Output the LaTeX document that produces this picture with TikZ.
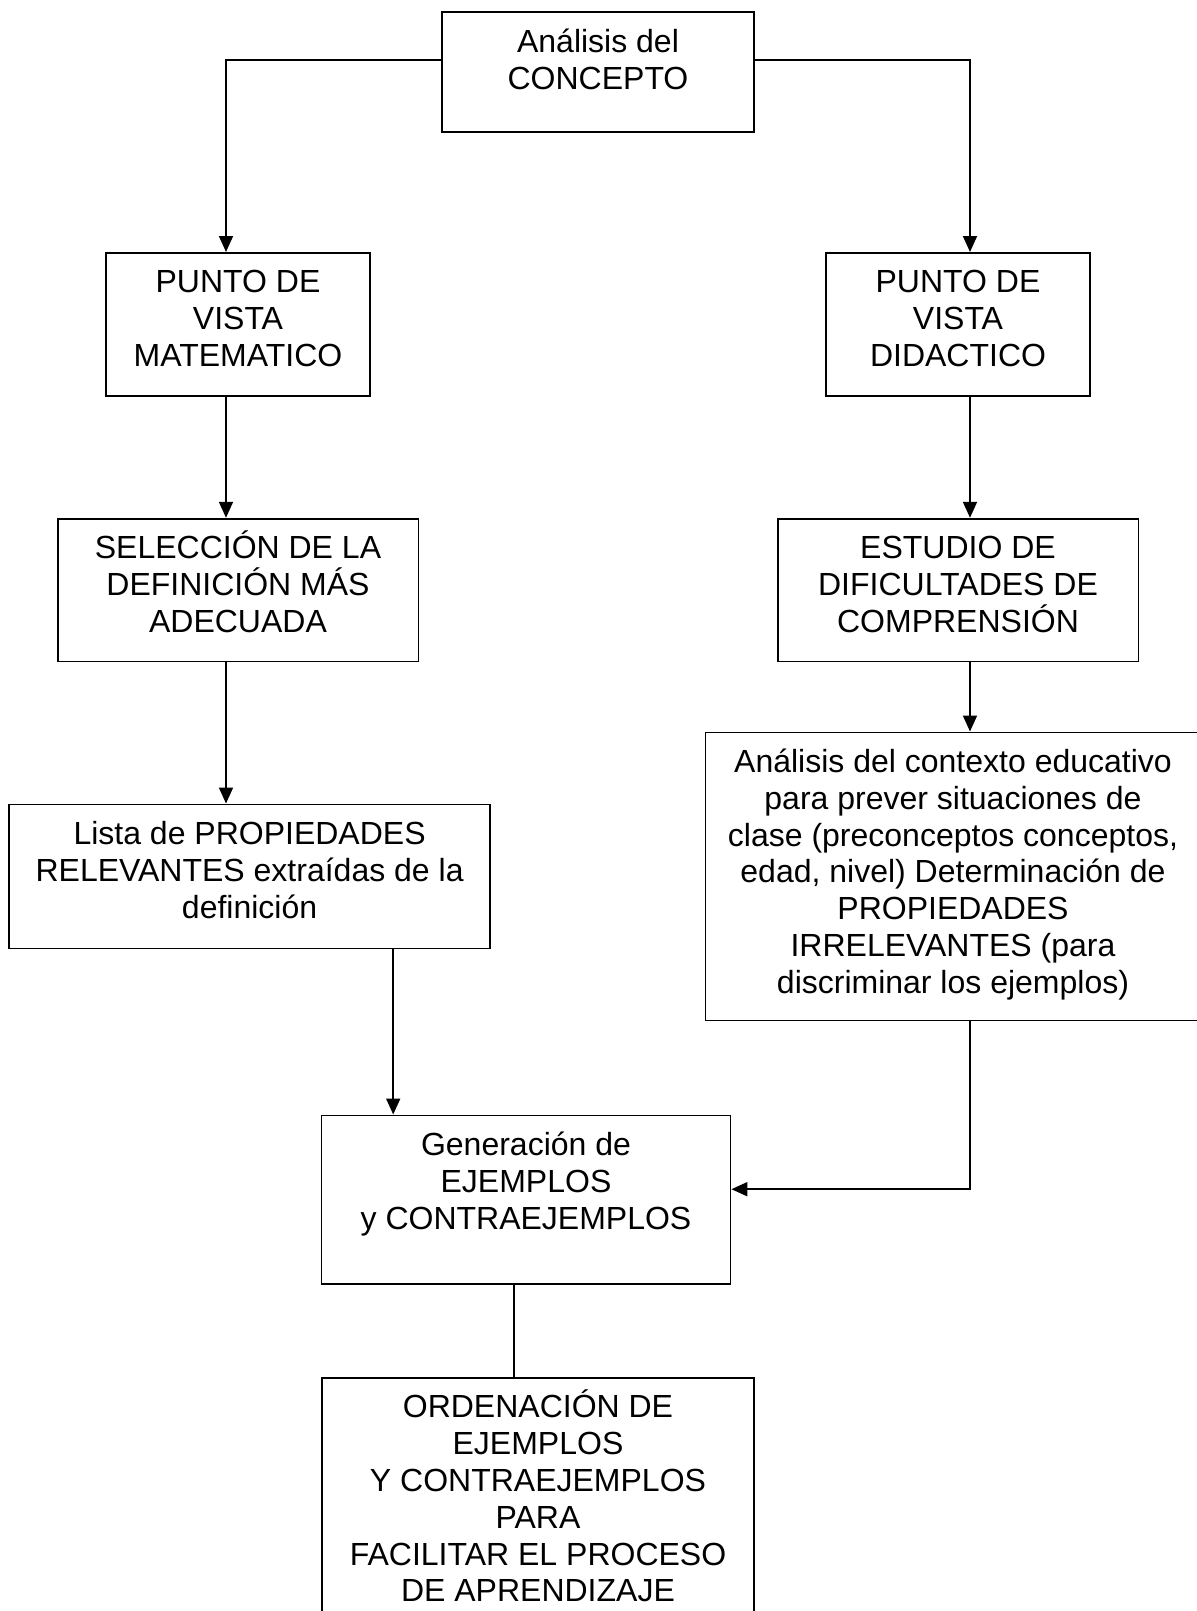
\documentclass[tikz,border=0pt]{standalone}
\usepackage{fontspec}
\setmainfont{Liberation Sans}
\usepackage{tikz}
\usetikzlibrary{positioning, arrows.meta}
\tikzstyle{Box} = [rectangle, draw=black, line width=0.9pt, align=center, inner sep=0pt, font=\fontsize{16}{18.4}\selectfont]
\tikzstyle{Arr} = [line width=0.9pt, -{Triangle[width=7pt, length=8pt]}]

\begin{document}
\begin{tikzpicture}[x=0.5pt, y=-0.5pt]

    \useasboundingbox (0,0) rectangle (1197,1611);

    %%%%%%%%%%%%%%%%%%%%%%
    \node[Box, anchor=north, minimum width=156pt, text height=38.4pt, text depth=21.3pt] (concepto) at (598,11.5) {An\'alisis del\\CONCEPTO};

    \node[Box, anchor=north, minimum width=132pt, text height=56.8pt, text depth=14.6pt] (matem) at (238,252) {PUNTO DE\\VISTA\\MATEMATICO};
    \node[Box, anchor=north, minimum width=132pt, text height=56.8pt, text depth=14.6pt] (didac) at (958,252) {PUNTO DE\\VISTA\\DIDACTICO};

    \node[Box, minimum width=180.4pt, text height=56.8pt, text depth=14.6pt] (selec) [below=60.6pt of matem] {SELECCI\'ON DE LA\\DEFINICI\'ON M\'AS\\ADECUADA};
    \node[Box, minimum width=180.4pt, text height=56.8pt, text depth=14.6pt] (estudio) [below=60.6pt of didac] {ESTUDIO DE\\DIFICULTADES DE\\COMPRENSI\'ON};

    %%%%%%%%%%%%%%%%%%%%%%
    \node[Box, anchor=north, minimum width=240.5pt, text height=56.8pt, text depth=15.2pt] (lista) at (249.6,803.5) {Lista de PROPIEDADES\\RELEVANTES extra\'idas de la\\definici\'on};
    \node[Box, anchor=north, minimum width=247.6pt, text height=130.4pt, text depth=13.6pt] (contexto) at (953,731.5) {An\'alisis del contexto educativo\\para prever situaciones de\\clase (preconceptos conceptos,\\edad, nivel) Determinaci\'on de\\PROPIEDADES\\IRRELEVANTES (para\\discriminar los ejemplos)};

    %%%%%%%%%%%%%%%%%%%%%%
    \node[Box, anchor=north, minimum width=204.5pt, text height=56.8pt, text depth=27.6pt] (gener) at (526,1114.5) {Generaci\'on de\\EJEMPLOS\\y CONTRAEJEMPLOS};
    \node[Box, anchor=north, minimum width=216.2pt, text height=112pt, text depth=13pt] (ordena) at (538,1377) {ORDENACI\'ON DE\\EJEMPLOS\\Y CONTRAEJEMPLOS\\PARA\\FACILITAR EL PROCESO\\DE APRENDIZAJE};

    \draw[Arr] ([yshift=6pt]concepto.west) -| ([xshift=-6pt]matem.north);
    \draw[Arr] ([yshift=6pt]concepto.east) -| ([xshift=6pt]didac.north);
    \draw[Arr] ([xshift=-6pt]matem.south) to ([xshift=-6pt]selec.north);
    \draw[Arr] ([xshift=6pt]didac.south) to ([xshift=6pt]estudio.north);
    \draw[Arr] ([xshift=-6pt]selec.south) to ([xshift=-11.8pt]lista.north);
    \draw[Arr] ([xshift=6pt]estudio.south) to ([xshift=8.5pt]contexto.north);
    \draw[Arr] ([xshift=71.8pt]lista.south) to ([xshift=-66.4pt]gener.north);
    \draw[Arr] ([xshift=8.5pt]contexto.south) |- ([yshift=5.3pt]gener.east);
    \draw[line width=0.9pt] ([xshift=-6pt]gener.south) to ([xshift=-12pt]ordena.north);

\end{tikzpicture}
\end{document}
